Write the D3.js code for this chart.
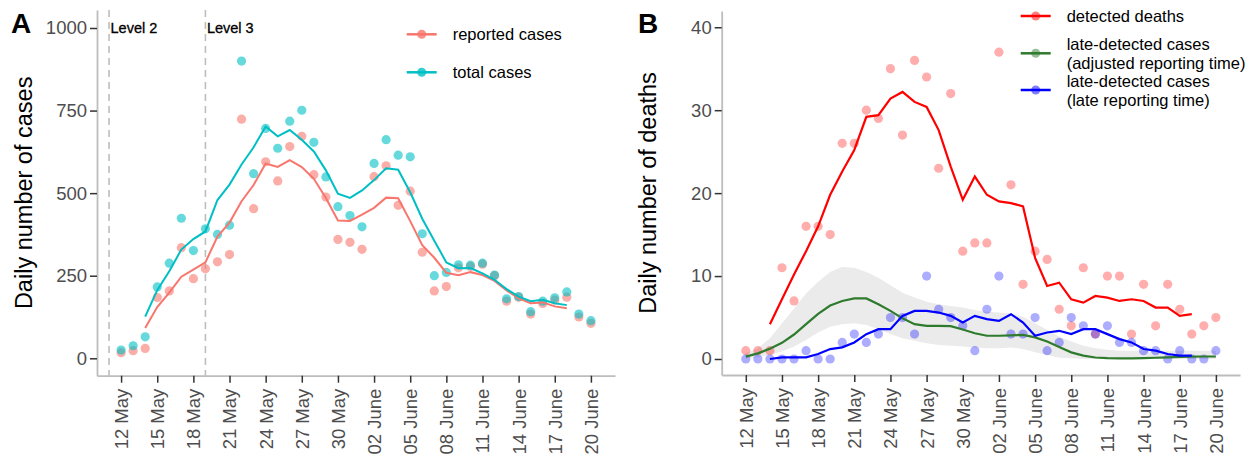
<!DOCTYPE html>
<html>
<head>
<meta charset="utf-8">
<script src="https://cdnjs.cloudflare.com/ajax/libs/d3/7.8.5/d3.min.js"></script>
<style>
    body { margin: 0; background: #fff; }
    svg { font-family: "Liberation Sans", Arial, sans-serif; }
    .tick text { fill: #4d4d4d; font-size: 18.5px; }
    .tick line { stroke: #333; stroke-width: 1.5px; }
    .domain { stroke: #bdbdbd; stroke-width: 1.8px; }
</style>
</head>
<body>
<svg id="svg" width="1258" height="459"></svg>
<script>
    // days from 12 May to 20 June
    const startDay = new Date(Date.UTC(2020, 4, 12));
    const dates = d3.utcDay.range(startDay, d3.utcDay.offset(startDay, 40));
    const tickDates = d3.utcDay.range(startDay, d3.utcDay.offset(startDay, 40), 3);
    const levelDates = [d3.utcDay.offset(startDay, -1), d3.utcDay.offset(startDay, 7)];
    const levelLabels = ['Level 2', 'Level 3'];

    // panel A
    const reported = [17, 23, 30, 184, 204, 335, 241, 271, 292, 314, 724, 453, 595, 537, 641, 672, 556, 488, 360, 351,
        330, 550, 583, 463, 506, 321, 204, 217, 274, 278, 285, 250, 173, 185, 134, 166, 176, 185, 125, 106];
    const total = [25, 38, 65, 216, 288, 424, 326, 392, 375, 403, 900, 559, 696, 636, 718, 751, 654, 549, 459, 432,
        398, 590, 662, 615, 610, 377, 250, 260, 283, 282, 288, 252, 180, 187, 141, 173, 183, 201, 134, 114];
    const reportedAvg = [null, null, 91.6, 155.2, 198.8, 247, 268.6, 290.6, 368.4, 410.8, 475.6, 524.6, 590, 579.6,
        600.2, 578.8, 543.4, 485.4, 417, 415.8, 434.8, 455.4, 486.4, 484.6, 415.4, 342.2, 304.4, 258.8, 251.6, 260.8,
        252, 234.2, 205.4, 181.6, 166.8, 169.2, 157.2, 151.6, null, null];
    const totalAvg = [null, null, 126.4, 206.2, 263.8, 329.2, 361, 384, 479.2, 525.8, 586.6, 638.8, 701.8, 672, 691,
        661.6, 626.2, 569, 498.4, 485.6, 508.2, 539.4, 575, 570.8, 502.8, 422.4, 356, 290.4, 272.6, 273, 257, 237.8,
        209.6, 186.6, 172.8, 177, 166.4, 161, null, null];
    const casesTicks = [0, 250, 500, 750, 1000];

    // panel B
    const deaths = [1, 1, 1, 11, 7, 16, 16, 15, 26, 26, 30, 29, 35, 27, 36, 34, 23, 32, 13, 14,
        14, 37, 21, 9, 13, 12, 6, 4, 11, 3, 10, 10, 3, 9, 4, 9, 6, 3, 4, 5];
    const deathsAvg = [null, null, 4.2, 7.2, 10.2, 13, 16, 19.8, 22.6, 25.2, 29.2, 29.4, 31.4, 32.2, 31, 30.4, 27.6,
        23.2, 19.2, 22, 19.8, 19, 18.8, 18.4, 12.2, 8.8, 9.2, 7.2, 6.8, 7.6, 7.4, 7, 7.2, 7, 6.2, 6.2, 5.2, 5.4,
        null, null];
    const lateCases = [0, 0, 0, 0, 0, 1, 0, 0, 2, 3, 2, 3, 5, 5, 3, 10, 6, 5, 4, 1,
        6, 10, 3, 3, 5, 1, 2, 5, 4, 3, 4, 2, 2, 1, 1, 0, 1, 0, 0, 1];
    const lateCasesAvg = [null, null, 0, 0.2, 0.2, 0.2, 0.6, 1.2, 1.4, 2, 3, 3.6, 3.6, 5.2, 5.8, 5.8, 5.6, 5.2, 4.4,
        5.2, 4.8, 4.6, 5.4, 4.4, 2.8, 3.2, 3.4, 3, 3.6, 3.6, 3, 2.4, 2, 1.2, 1, 0.6, 0.4, 0.4, null, null];
    const adjusted = [0.28, 0.68, 1.25, 1.95, 2.95, 4.2, 5.45, 6.45, 7.0, 7.3, 7.3, 6.6, 5.8, 4.9, 4.2, 4.0, 4.0,
        3.97, 3.55, 3.1, 2.8, 2.8, 2.85, 2.9, 2.6, 2.1, 1.45, 0.8, 0.4, 0.18, 0.1, 0.08, 0.08, 0.1, 0.15, 0.2, 0.25,
        0.28, 0.3, 0.3];
    const adjustedHigh = [0.7, 1.3, 2.5, 4.3, 6.1, 7.9, 9.3, 10.5, 11.1, 11.0, 10.5, 9.8, 8.9, 8.0, 7.4, 6.9, 6.6,
        6.4, 6.2, 5.9, 5.7, 5.6, 5.5, 5.1, 4.3, 3.5, 2.7, 2.1, 1.6, 1.3, 1.1, 1.0, 1.0, 1.0, 1.0, 1.0, 1.0, 1.0, 1.0,
        1.0];
    const adjustedLow = [0.05, 0.2, 0.5, 0.9, 1.5, 2.3, 3.2, 3.9, 4.2, 4.3, 4.1, 3.6, 3.0, 2.5, 2.2, 1.9, 1.7, 1.6,
        1.5, 1.4, 1.3, 1.3, 1.4, 1.2, 0.8, 0.5, 0.16, 0.1, 0, 0, 0, 0, 0, 0, 0, 0, 0, 0, 0, 0];
    const deathsTicks = [0, 10, 20, 30, 40];

    const svg = d3.select('#svg');
    const fmt = d3.utcFormat('%d %B');
    const xDomain = [d3.utcHour.offset(startDay, -47.5), d3.utcHour.offset(startDay, 984)];

    function drawAxes(g, x, y, yTicks, title, titleX) {
        const bottom = y.range()[0];
        const left = x.range()[0];

        g.append('g')
            .attr('transform', 'translate(0,' + bottom + ')')
            .call(d3.axisBottom(x).tickValues(tickDates).tickFormat(fmt).tickSize(7).tickSizeOuter(0))
            .selectAll('text')
            .attr('transform', 'rotate(-90)')
            .attr('text-anchor', 'end')
            .attr('x', -13)
            .attr('y', 0)
            .attr('dy', '0.35em');

        g.append('g')
            .attr('transform', 'translate(' + left + ',0)')
            .call(d3.axisLeft(y).tickValues(yTicks).tickFormat(d3.format('d'))
                .tickSize(7).tickPadding(3).tickSizeOuter(0));

        g.append('text')
            .attr('transform', 'translate(' + titleX + ',' + ((y.range()[0] + y.range()[1]) / 2) + ') rotate(-90)')
            .attr('text-anchor', 'middle')
            .style('font-size', '23.5px')
            .text(title);
    }

    function drawLegend(g, items, x0) {
        items.forEach(it => {
            g.append('line')
                .attr('x1', x0).attr('x2', x0 + 30)
                .attr('y1', it.y).attr('y2', it.y)
                .attr('stroke', it.color).attr('stroke-width', 2.5);
            g.append('circle')
                .attr('cx', x0 + 15).attr('cy', it.y).attr('r', 4.5)
                .attr('fill', it.color).attr('fill-opacity', it.alpha);
            it.lines.forEach((t, i) => {
                g.append('text')
                    .attr('x', x0 + 46)
                    .attr('y', it.textY + i * 19)
                    .attr('dy', '0.35em')
                    .style('font-size', '16.5px')
                    .text(t);
            });
        });
    }

    // ---------- panel A ----------
    const xA = d3.scaleUtc().domain(xDomain).range([97, 615]);
    const yA = d3.scaleLinear().domain([-52.7, 1054.5]).range([375.7, 10]);
    const gA = svg.append('g');

    gA.selectAll('.vline')
        .data(levelDates)
        .enter().append('line')
        .attr('x1', d => xA(d)).attr('x2', d => xA(d))
        .attr('y1', 10).attr('y2', 375.7)
        .attr('stroke', '#bdbdbd').attr('stroke-width', 1.6)
        .attr('stroke-dasharray', '7,5');

    gA.selectAll('.lvl')
        .data(levelDates)
        .enter().append('text')
        .attr('x', d => xA(d) + 1.5)
        .attr('y', 33)
        .attr('stroke', '#000').attr('stroke-width', 0.3)
        .style('font-size', '14.5px')
        .text((d, i) => levelLabels[i]);

    const seriesA = [
        {vals: reported, avg: reportedAvg, color: '#F8766D'},
        {vals: total, avg: totalAvg, color: '#00BFC4'}
    ];
    seriesA.forEach(s => {
        gA.append('g').selectAll('circle')
            .data(s.vals)
            .enter().append('circle')
            .attr('cx', (d, i) => xA(dates[i]))
            .attr('cy', d => yA(d))
            .attr('r', 4.6)
            .attr('fill', s.color)
            .attr('fill-opacity', 0.6);
    });
    seriesA.forEach(s => {
        gA.append('path')
            .datum(s.avg)
            .attr('fill', 'none')
            .attr('stroke', s.color)
            .attr('stroke-width', 2)
            .attr('d', d3.line()
                .defined(d => d != null)
                .x((d, i) => xA(dates[i]))
                .y(d => yA(d)));
    });

    drawAxes(gA, xA, yA, casesTicks, 'Daily number of cases', 32);

    gA.append('text')
        .attr('x', 11).attr('y', 33)
        .style('font-size', '28px').style('font-weight', 'bold')
        .text('A');

    drawLegend(gA, [
        {y: 34.3, textY: 34.3, color: '#F8766D', alpha: 0.8, lines: ['reported cases']},
        {y: 72.3, textY: 72.3, color: '#00BFC4', alpha: 0.8, lines: ['total cases']}
    ], 406.7);

    // ---------- panel B ----------
    const xB = d3.scaleUtc().domain(xDomain).range([721.7, 1240]);
    const yB = d3.scaleLinear().domain([-1.93, 41.96]).range([375, 11]);
    const gB = svg.append('g');

    gB.append('path')
        .datum(adjustedHigh)
        .attr('fill', '#ebebeb')
        .attr('d', d3.area()
            .x((d, i) => xB(dates[i]))
            .y0((d, i) => yB(adjustedLow[i]))
            .y1(d => yB(d)));

    const pointsB = [
        {vals: deaths, color: '#ff0000'},
        {vals: lateCases, color: '#0000ff'}
    ];
    pointsB.forEach(s => {
        gB.append('g').selectAll('circle')
            .data(s.vals)
            .enter().append('circle')
            .attr('cx', (d, i) => xB(dates[i]))
            .attr('cy', d => yB(d))
            .attr('r', 4.6)
            .attr('fill', s.color)
            .attr('fill-opacity', 0.32);
    });

    const linesB = [
        {vals: adjusted, color: '#2e7b2e'},
        {vals: lateCasesAvg, color: '#0000ff'},
        {vals: deathsAvg, color: '#ff0000'}
    ];
    linesB.forEach(s => {
        gB.append('path')
            .datum(s.vals)
            .attr('fill', 'none')
            .attr('stroke', s.color)
            .attr('stroke-width', 2.2)
            .attr('d', d3.line()
                .defined(d => d != null)
                .x((d, i) => xB(dates[i]))
                .y(d => yB(d)));
    });

    drawAxes(gB, xB, yB, deathsTicks, 'Daily number of deaths', 656);

    gB.append('text')
        .attr('x', 638).attr('y', 33)
        .style('font-size', '28px').style('font-weight', 'bold')
        .text('B');

    drawLegend(gB, [
        {y: 16, textY: 16, color: '#ff0000', alpha: 0.5, lines: ['detected deaths']},
        {y: 53.3, textY: 44, color: '#2e7b2e', alpha: 0.5, lines: ['late-detected cases', '(adjusted reporting time)']},
        {y: 90, textY: 81.5, color: '#0000ff', alpha: 0.5, lines: ['late-detected cases', '(late reporting time)']}
    ], 1020.7);
</script>
</body>
</html>
